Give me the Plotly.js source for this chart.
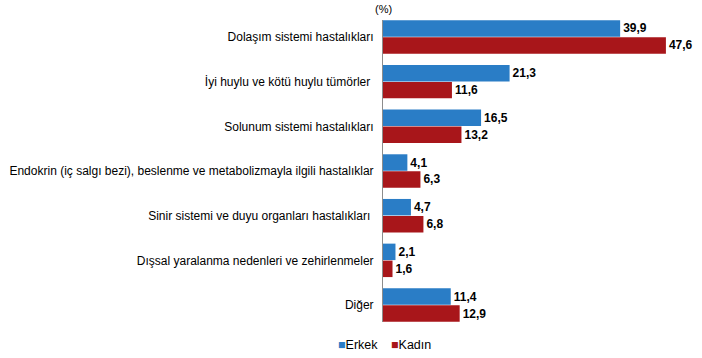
<!DOCTYPE html>
<html>
<head>
<meta charset="utf-8">
<script src="https://cdn.plot.ly/plotly-3.0.1.min.js"></script>
<style>html,body{margin:0;padding:0;background:#fff;}#chart{width:702px;height:358px;}</style>
</head>
<body>
<div id="chart"></div>
<script>
const categories = [
  "Dolaşım sistemi hastalıkları",
  "İyi huylu ve kötü huylu tümörler ",
  "Solunum sistemi hastalıkları",
  "Endokrin (iç salgı bezi), beslenme ve metabolizmayla ilgili hastalıklar",
  "Sinir sistemi ve duyu organları hastalıkları ",
  "Dışsal yaralanma nedenleri ve zehirlenmeler",
  "Diğer"
];
const seriesNames = ["Erkek", "Kadın"];
const erkek = [39.9, 21.3, 16.5, 4.1, 4.7, 2.1, 11.4];
const kadin = [47.6, 11.6, 13.2, 6.3, 6.8, 1.6, 12.9];
const colors = ["#2a7dc6", "#a8161a"];

const FONT = "Liberation Sans, Arial, sans-serif";
const labelFont = {family: FONT, size: 12, color: "#000"};
function series(name, vals, color) {
  return {
    type: "bar", orientation: "h", name: name,
    y: categories, x: vals,
    marker: {color: color},
    texttemplate: "<b>%{x:.1f}</b>",
    textposition: "outside",
    cliponaxis: false,
    textfont: labelFont,
    hoverinfo: "skip"
  };
}
const data = [
  series(seriesNames[0], erkek, colors[0]),
  series(seriesNames[1], kadin, colors[1])
];
const layout = {
  width: 702, height: 358,
  margin: {l: 383, r: 4, t: 20, b: 36},
  paper_bgcolor: "#fff", plot_bgcolor: "#fff",
  separators: ",.",
  barmode: "group", bargap: 0.24, bargroupgap: 0.03,
  font: {family: FONT, size: 12, color: "#000"},
  xaxis: {range: [0, 53], visible: false, showgrid: false, zeroline: false, fixedrange: true},
  yaxis: {
    range: [6.38, -0.38], showline: true, linecolor: "#8c8c8c", linewidth: 1,
    ticks: "", showgrid: false, zeroline: false, ticklabelstandoff: 6,
    tickfont: {family: FONT, size: 12, color: "#000"}
  },
  showlegend: false,
  annotations: [
    {
      text: "(%)", xref: "paper", yref: "paper", x: 0, y: 1 + 19 / 302, yanchor: "top",
      xanchor: "center", showarrow: false,
      font: {family: FONT, size: 11, color: "#000"}
    },
    {
      text: '<span style="color:' + colors[0] + '">■</span>' + seriesNames[0],
      xref: "paper", yref: "paper", x: -47 / 315, xanchor: "left",
      y: -23 / 302, yanchor: "middle", showarrow: false,
      font: {family: FONT, size: 12.5, color: "#000"}
    },
    {
      text: '<span style="color:' + colors[1] + '">■</span>' + seriesNames[1],
      xref: "paper", yref: "paper", x: 6 / 315, xanchor: "left",
      y: -23 / 302, yanchor: "middle", showarrow: false,
      font: {family: FONT, size: 12.5, color: "#000"}
    }
  ]
};
Plotly.newPlot("chart", data, layout, {displayModeBar: false, staticPlot: true});
</script>
</body>
</html>
